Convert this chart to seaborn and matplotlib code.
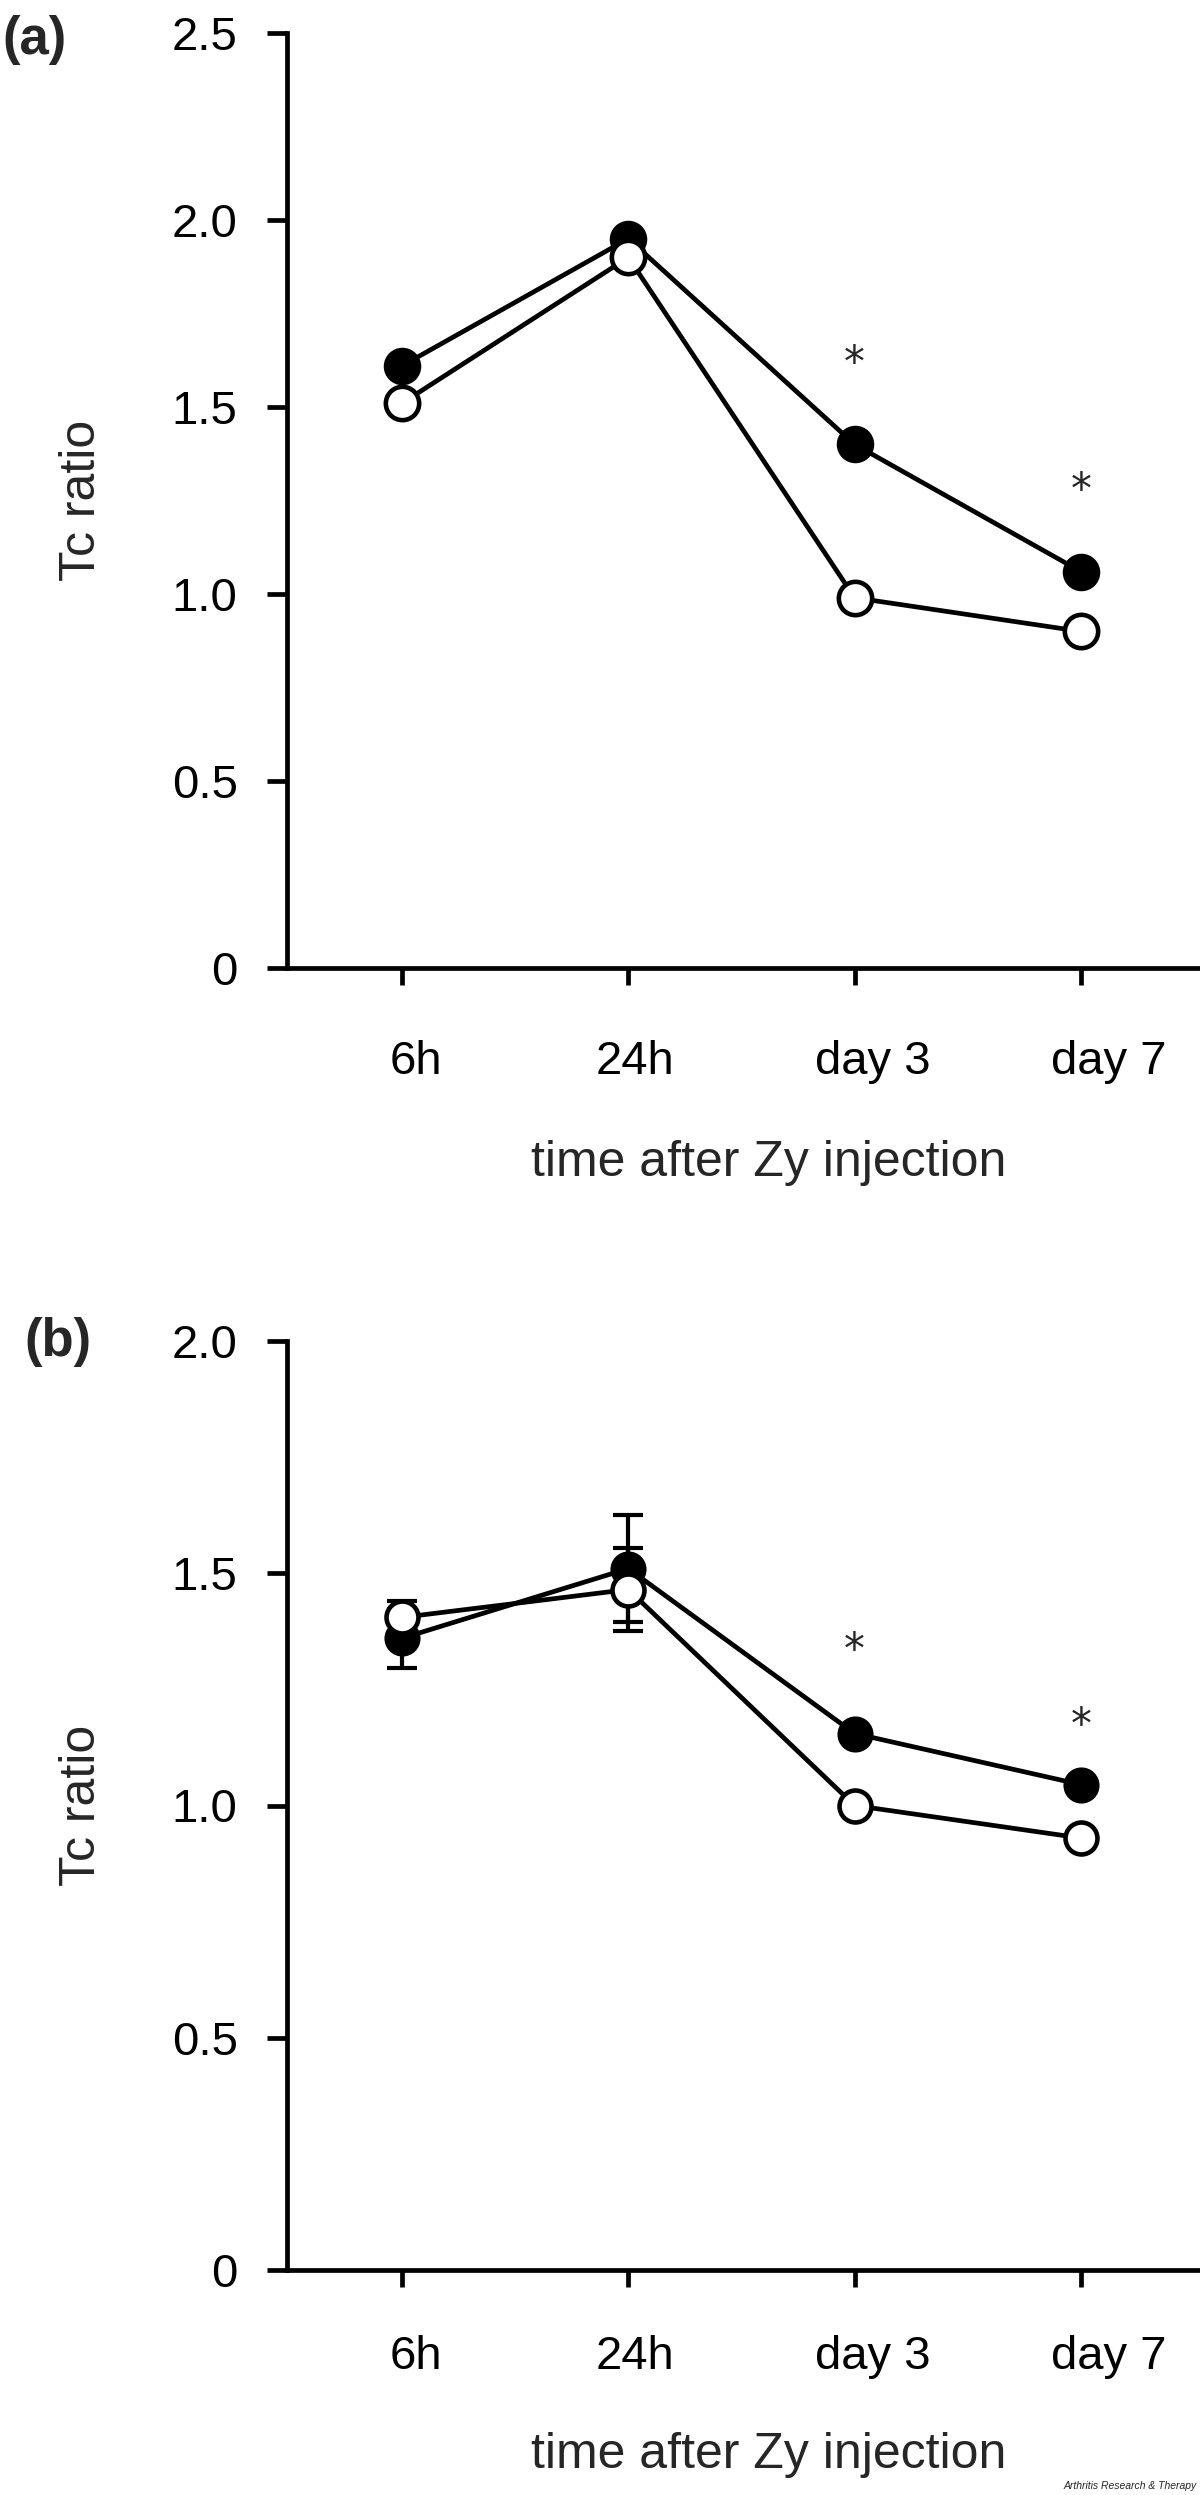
import matplotlib
matplotlib.use("Agg")
import matplotlib.pyplot as plt
import matplotlib.transforms as mtransforms
import seaborn as sns

# time points after injection
times = ["6h", "24h", "day 3", "day 7"]

# panel (a): Tc ratio, filled vs open circles
a_filled = [1.61, 1.95, 1.40, 1.06]
a_open = [1.51, 1.90, 0.99, 0.90]
a_star_times = ["day 3", "day 7"]
a_star_y = [1.65, 1.31]
a_yticks = [0, 0.5, 1.0, 1.5, 2.0, 2.5]
a_yticklabels = ["0", "0.5", "1.0", "1.5", "2.0", "2.5"]

# panel (b): Tc ratio with error bars on the first two time points
b_filled = [1.36, 1.51, 1.155, 1.045]
b_open = [1.405, 1.465, 1.0, 0.93]
b_filled_err = [0.063, 0.115, 0.0, 0.0]
b_open_err = [0.035, 0.09, 0.0, 0.0]
b_star_times = ["day 3", "day 7"]
b_star_y = [1.36, 1.20]
b_yticks = [0, 0.5, 1.0, 1.5, 2.0]
b_yticklabels = ["0", "0.5", "1.0", "1.5", "2.0"]

sns.set_style("ticks")
plt.rcParams["font.family"] = ["Liberation Sans", "DejaVu Sans"]

W, H = 1200, 2495
fig = plt.figure(figsize=(W / 100, H / 100), dpi=100)

# the tick labels sit a little right of their ticks in the original
label_shift_px = [14, 7, 18, 28]


def px_axes(left, top, right, bottom):
    return fig.add_axes([left / W, 1 - bottom / H, (right - left) / W, (bottom - top) / H])


def draw_panel(ax, filled, opened, filled_err, open_err, star_times, star_y,
               yticks, yticklabels, ms, xpad, xlabelpad):
    if filled_err is not None:
        n = sum(1 for e in filled_err if e > 0)
        ax.errorbar(times[:n], filled[:n], yerr=filled_err[:n], fmt="none",
                    ecolor="black", elinewidth=3, capsize=11, capthick=3,
                    zorder=2, clip_on=False)
    sns.lineplot(x=times, y=filled, ax=ax, color="black", linewidth=3.4,
                 marker="o", markersize=ms, markerfacecolor="black",
                 markeredgecolor="black", markeredgewidth=1.5, zorder=3,
                 clip_on=False)
    if open_err is not None:
        n = sum(1 for e in open_err if e > 0)
        ax.errorbar(times[:n], opened[:n], yerr=open_err[:n], fmt="none",
                    ecolor="black", elinewidth=3, capsize=11, capthick=3,
                    zorder=4, clip_on=False)
    sns.lineplot(x=times, y=opened, ax=ax, color="black", linewidth=3.4,
                 marker="o", markersize=ms - 1.5, markerfacecolor="white",
                 markeredgecolor="black", markeredgewidth=3.3, zorder=5,
                 clip_on=False)

    for t, y in zip(star_times, star_y):
        ax.annotate("*", xy=(t, y), xytext=(0, -18), textcoords="offset points",
                    ha="center", va="baseline", fontsize=30,
                    family=["DejaVu Sans"])

    ax.set_xlim(-0.508, 3.526)
    ax.set_ylim(yticks[0], yticks[-1])
    ax.set_yticks(yticks)
    ax.set_yticklabels(yticklabels)
    ax.set_xticks(range(len(times)))
    ax.set_xticklabels(times)

    sns.despine(ax=ax)
    for side in ["left", "bottom"]:
        ax.spines[side].set_linewidth(3.4)
        ax.spines[side].set_color("black")
    ax.tick_params(axis="y", direction="out", length=14.5, width=3.4,
                   labelsize=34, pad=21, colors="black")
    ax.tick_params(axis="x", direction="out", length=12, width=3.4,
                   labelsize=34, pad=xpad, colors="black")
    for lbl, dx in zip(ax.get_xticklabels(), label_shift_px):
        shift = mtransforms.ScaledTranslation(dx / 100, 0, fig.dpi_scale_trans)
        lbl.set_transform(lbl.get_transform() + shift)

    ax.set_xlabel("time after Zy injection", fontsize=36, labelpad=xlabelpad)
    ax.xaxis.label.set_x(0.528)
    ax.set_ylabel("Tc ratio", fontsize=36, labelpad=48)
    ax.set_facecolor("white")


ax_a = px_axes(287, 33, 1200, 968)
draw_panel(ax_a, a_filled, a_open, None, None, a_star_times, a_star_y,
           a_yticks, a_yticklabels, ms=25.5, xpad=40, xlabelpad=40)

ax_b = px_axes(287, 1341, 1200, 2270)
draw_panel(ax_b, b_filled, b_open, b_filled_err, b_open_err, b_star_times,
           b_star_y, b_yticks, b_yticklabels, ms=24.5, xpad=35, xlabelpad=38)

fig.text(2 / W, 1 - 40 / H, "(a)", fontsize=38, fontweight="bold",
         ha="left", va="center")
fig.text(24 / W, 1 - 1342 / H, "(b)", fontsize=38, fontweight="bold",
         ha="left", va="center")
fig.text(1197 / W, 1 - 2489 / H, "Arthritis Research & Therapy", fontsize=7.5,
         style="italic", ha="right", va="baseline")

fig.savefig("out.png", dpi=100, facecolor="white")
